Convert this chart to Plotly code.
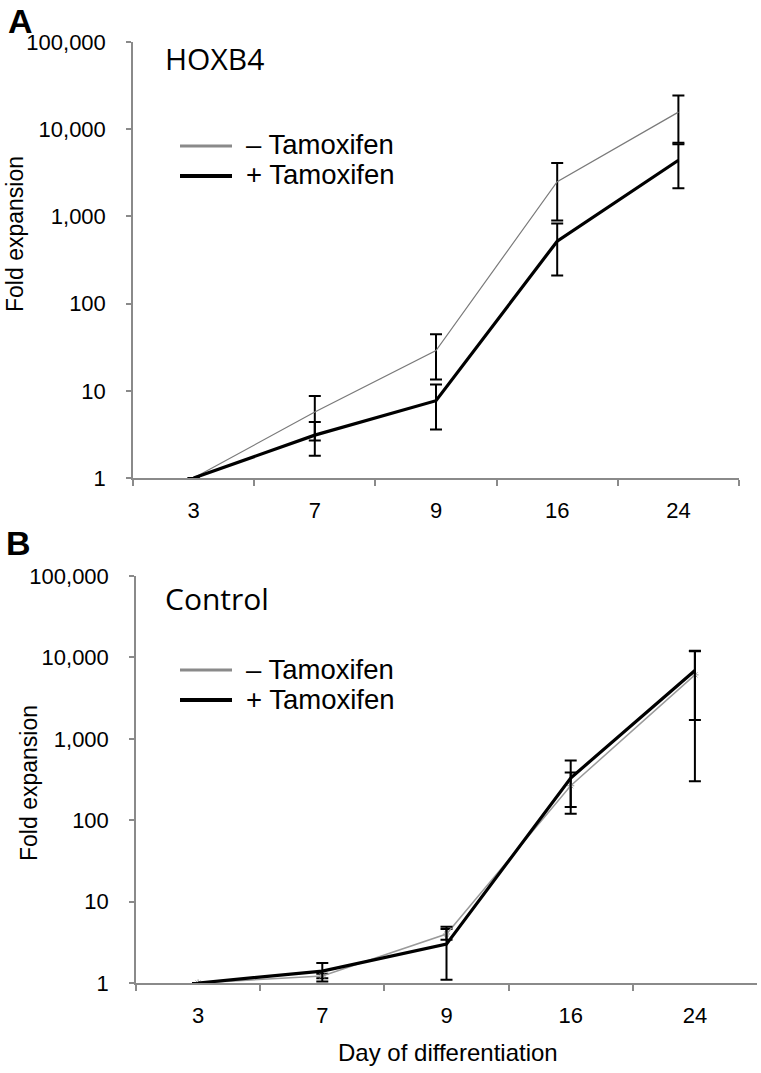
import plotly.graph_objects as go

# ---------------- data ----------------
days = ["3", "7", "9", "16", "24"]

hoxb4_minus = [1, 5.7, 29, 2500, 15700]
hoxb4_minus_err = [0, 3.0, 15.5, 1600, 8700]
hoxb4_plus = [1, 3.1, 7.7, 520, 4400]
hoxb4_plus_err = [0, 1.3, 4.1, 310, 2300]

ctrl_minus = [1, 1.22, 4.0, 265, 6100]
ctrl_minus_err = [0, 0.08, 0.6, 120, 5800]
ctrl_plus = [1, 1.4, 3.0, 330, 6900]
ctrl_plus_err = [0, 0.36, 1.9, 210, 5200]

y_tickvals = [1, 10, 100, 1000, 10000, 100000]
y_ticktext = ["1", "10", "100", "1,000", "10,000", "100,000"]

legend_labels = ["\u2013 Tamoxifen", "+ Tamoxifen"]
panel_titles = ["HOXB4", "Control"]
panel_letters = ["A", "B"]

W, H = 761, 1073
FONT = "Liberation Sans, Arial, sans-serif"
GRAY_AX = "#8a8a8a"


def px(x):
    return x / W


def py(y):
    return 1 - y / H


fig = go.Figure()

err_style = dict(type="data", color="black", thickness=2, width=6, visible=True)

# Panel A
fig.add_trace(go.Scatter(x=days, y=hoxb4_minus, mode="lines",
                         line=dict(color="#7a7a7a", width=1.2),
                         error_y=dict(array=hoxb4_minus_err, **err_style),
                         xaxis="x", yaxis="y", showlegend=False))
fig.add_trace(go.Scatter(x=days, y=hoxb4_plus, mode="lines",
                         line=dict(color="black", width=3.2),
                         error_y=dict(array=hoxb4_plus_err, **err_style),
                         xaxis="x", yaxis="y", showlegend=False))
# Panel B
fig.add_trace(go.Scatter(x=days, y=ctrl_minus, mode="lines+markers",
                         line=dict(color="#9a9a9a", width=1.5),
                         marker=dict(symbol="asterisk-open", size=6,
                                     line=dict(color="#9a9a9a", width=1)),
                         error_y=dict(array=ctrl_minus_err, **err_style),
                         xaxis="x2", yaxis="y2", showlegend=False))
fig.add_trace(go.Scatter(x=days, y=ctrl_plus, mode="lines",
                         line=dict(color="black", width=3.2),
                         error_y=dict(array=ctrl_plus_err, **err_style),
                         xaxis="x2", yaxis="y2", showlegend=False))

xcommon = dict(type="category", range=[-0.5, 4.5], showline=True, linecolor=GRAY_AX,
               linewidth=1.5, ticks="outside", tickson="boundaries", ticklen=6,
               tickcolor=GRAY_AX, tickwidth=1.5, showgrid=False, zeroline=False,
               tickfont=dict(family=FONT, size=22, color="black"),
               ticklabelstandoff=12, automargin=False)
ycommon = dict(type="log", range=[0, 5], showline=True, linecolor=GRAY_AX,
               linewidth=1.5, ticks="outside", ticklen=5, tickcolor=GRAY_AX,
               tickwidth=1.5, showgrid=False, zeroline=False,
               tickvals=y_tickvals, ticktext=y_ticktext,
               tickfont=dict(family=FONT, size=22, color="black"),
               ticklabelstandoff=16, automargin=False)

fig.update_layout(
    width=W, height=H,
    margin=dict(l=0, r=0, t=0, b=0, pad=0),
    paper_bgcolor="white", plot_bgcolor="white",
    xaxis=dict(domain=[px(133), px(739)], anchor="y", **xcommon),
    yaxis=dict(domain=[py(478), py(42)], anchor="x", **ycommon),
    xaxis2=dict(domain=[px(136), px(757)], anchor="y2", **xcommon),
    yaxis2=dict(domain=[py(983), py(576)], anchor="x2", **ycommon),
    showlegend=False,
)

annotations = []
shapes = []

# Panel letters
for letter, (x, y) in zip(panel_letters, [(6, 21), (4, 543)]):
    annotations.append(dict(text=f"<b>{letter}</b>", x=px(x), y=py(y), xref="paper",
                            yref="paper", xanchor="left", yanchor="middle", showarrow=False,
                            font=dict(family=FONT, size=34, color="black")))

# Panel titles
for title, (x, y) in zip(panel_titles, [(163, 58), (163, 598)]):
    annotations.append(dict(text=title, x=px(x), y=py(y), xref="paper", yref="paper",
                            xanchor="left", yanchor="middle", showarrow=False,
                            font=dict(family="Open Sans, sans-serif", size=30, color="black")))

# Manual legends
for ys in [(146, 176), (670, 700)]:
    for label, yy, col, lw in zip(legend_labels, ys, ["#8a8a8a", "black"], [3, 4]):
        shapes.append(dict(type="line", xref="paper", yref="paper",
                           x0=px(180), x1=px(232), y0=py(yy), y1=py(yy),
                           line=dict(color=col, width=lw)))
        annotations.append(dict(text=label, x=px(244), y=py(yy - 1), xref="paper",
                                yref="paper", xanchor="left", yanchor="middle",
                                showarrow=False,
                                font=dict(family=FONT, size=27.5, color="black")))

# Y axis titles
for (x, y) in [(1, 234), (15, 783)]:
    annotations.append(dict(text="Fold expansion", x=px(x), y=py(y), xref="paper",
                            yref="paper", xanchor="left", yanchor="middle",
                            textangle=-90, showarrow=False, borderpad=0,
                            font=dict(family=FONT, size=23, color="black")))

# X axis title
annotations.append(dict(text="Day of differentiation", x=px(448), y=py(1052), xref="paper",
                        yref="paper", xanchor="center", yanchor="middle", showarrow=False,
                        font=dict(family=FONT, size=24, color="black")))

fig.update_layout(annotations=annotations, shapes=shapes)

fig.write_html(
    "out.html",
    config={"displayModeBar": False},
    post_script="document.body.style.margin='0';document.body.style.overflow='hidden';",
)
